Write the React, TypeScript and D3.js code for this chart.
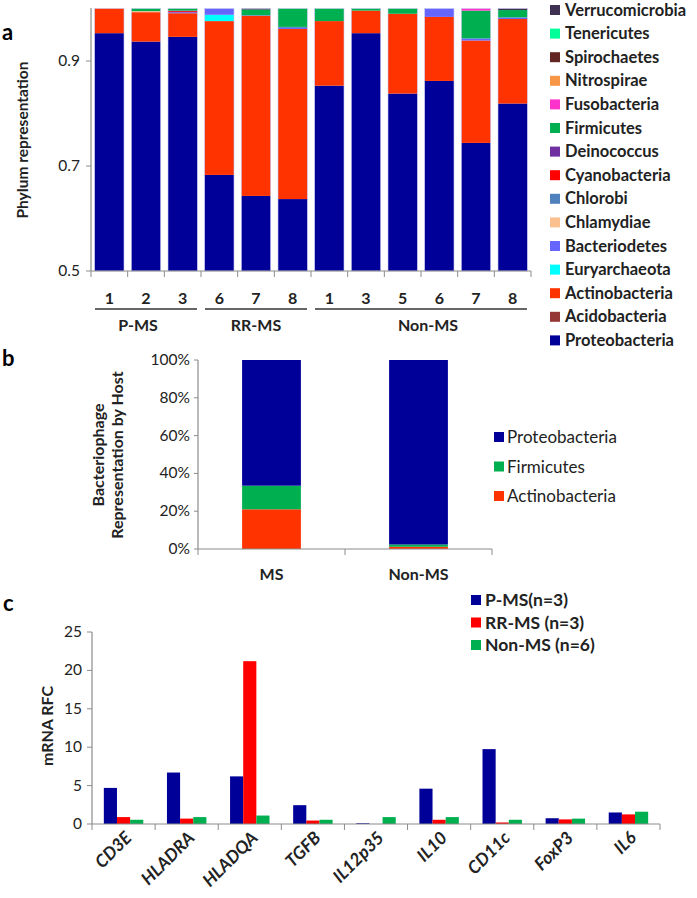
import React from "react";
import * as d3 from "d3";

// ---------- Panel a data ----------
const sampleLabels = ["1", "2", "3", "6", "7", "8", "1", "3", "5", "6", "7", "8"];
const groupNames = ["P-MS", "RR-MS", "Non-MS"];
const groupSizes = [3, 3, 6];
const phyla = [
  "Proteobacteria", "Acidobacteria", "Actinobacteria", "Euryarchaeota", "Bacteriodetes",
  "Chlamydiae", "Chlorobi", "Cyanobacteria", "Deinococcus", "Firmicutes",
  "Fusobacteria", "Nitrospirae", "Spirochaetes", "Tenericutes", "Verrucomicrobia",
];
const phylaColors = [
  "#000099", "#953735", "#FF3300", "#00FFFF", "#6666FF",
  "#FAC090", "#4F81BD", "#FF0000", "#7030A0", "#00B050",
  "#FF33CC", "#F79646", "#632523", "#00FF99", "#3F3151",
];
// values per phylum for each of the 12 samples
const proteobacteria = [0.953, 0.937, 0.946, 0.683, 0.643, 0.637, 0.853, 0.953, 0.838, 0.862, 0.744, 0.819];
const acidobacteria = [0, 0, 0, 0, 0, 0, 0, 0, 0, 0, 0, 0];
const actinobacteria = [0.047, 0.056, 0.045, 0.293, 0.343, 0.324, 0.123, 0.043, 0.152, 0.122, 0.195, 0.161];
const euryarchaeota = [0, 0, 0, 0.012, 0, 0, 0, 0, 0, 0, 0, 0];
const bacteriodetes = [0, 0, 0.002, 0.012, 0.001, 0.002, 0, 0, 0, 0.016, 0.004, 0.003];
const chlamydiae = [0, 0.002, 0, 0, 0, 0, 0, 0, 0, 0, 0, 0];
const chlorobi = [0, 0, 0, 0, 0, 0.002, 0, 0, 0, 0, 0, 0];
const cyanobacteria = [0, 0, 0.002, 0, 0, 0, 0, 0, 0, 0, 0, 0];
const deinococcus = [0, 0, 0.001, 0, 0, 0, 0, 0, 0, 0, 0, 0];
const firmicutes = [0, 0.005, 0.004, 0, 0.011, 0.035, 0.024, 0.004, 0.01, 0, 0.053, 0.014];
const fusobacteria = [0, 0, 0, 0, 0, 0, 0, 0, 0, 0, 0.004, 0];
const nitrospirae = [0, 0, 0, 0, 0, 0, 0, 0, 0, 0, 0, 0];
const spirochaetes = [0, 0, 0, 0, 0, 0, 0, 0, 0, 0, 0, 0];
const tenericutes = [0, 0, 0, 0, 0, 0, 0, 0, 0, 0, 0, 0];
const verrucomicrobia = [0, 0, 0, 0, 0.002, 0, 0, 0, 0, 0, 0, 0.003];
const phylaValues = [
  proteobacteria, acidobacteria, actinobacteria, euryarchaeota, bacteriodetes,
  chlamydiae, chlorobi, cyanobacteria, deinococcus, firmicutes,
  fusobacteria, nitrospirae, spirochaetes, tenericutes, verrucomicrobia,
];
const aTicks = [0.5, 0.7, 0.9];

// ---------- Panel b data ----------
const bCategories = ["MS", "Non-MS"];
const bSeries = ["Actinobacteria", "Firmicutes", "Proteobacteria"];
const bColors = ["#FF3300", "#00B050", "#000099"];
const bActino = [0.21, 0.012];
const bFirmicutes = [0.125, 0.012];
const bProteo = [0.665, 0.976];
const bTicks = [0, 0.2, 0.4, 0.6, 0.8, 1.0];

// ---------- Panel c data ----------
const genes = ["CD3E", "HLADRA", "HLADQA", "TGFB", "IL12p35", "IL10", "CD11c", "FoxP3", "IL6"];
const cSeries = ["P-MS(n=3)", "RR-MS (n=3)", "Non-MS (n=6)"];
const cColors = ["#000099", "#FF0000", "#00B050"];
const pms = [4.7, 6.7, 6.2, 2.45, 0.1, 4.6, 9.75, 0.75, 1.5];
const rrms = [0.9, 0.7, 21.2, 0.45, 0, 0.55, 0.2, 0.6, 1.25];
const nonms = [0.55, 0.9, 1.1, 0.55, 0.9, 0.9, 0.55, 0.7, 1.6];
const cTicks = [0, 5, 10, 15, 20, 25];

const FONT = "Lato, 'Open Sans', sans-serif";
const AXIS = "#8c8c8c";
const TXT = "#222";
const groupLabelShift = [-8, 0, 7];

export default function App() {
  // ----- Panel a -----
  const ax = d3.scaleBand<number>().domain(d3.range(12)).range([91, 531]).paddingInner(0.2).paddingOuter(0.1);
  const ay = d3.scaleLinear().domain([0.5, 1.0]).range([271, 8.5]);
  const stackA = d3.stack<number>()
    .keys(d3.range(phyla.length).map(String))
    .value((i, k) => phylaValues[+k][i])(d3.range(12));
  const step = (531 - 91) / 12;
  let gStart = 0;
  const groups = groupNames.map((g, gi) => {
    const s = gStart;
    gStart += groupSizes[gi];
    return { name: g, x0: 91 + s * step, x1: 91 + gStart * step, shift: groupLabelShift[gi] };
  });

  // ----- Panel b -----
  const bx = d3.scaleBand<string>().domain(bCategories).range([198, 492]).paddingInner(0.6).paddingOuter(0.3);
  const by = d3.scaleLinear().domain([0, 1]).range([549, 360]);
  const bVals = [bActino, bFirmicutes, bProteo];
  const stackB = d3.stack<number>()
    .keys(["0", "1", "2"])
    .value((i, k) => bVals[+k][i])(d3.range(2));

  // ----- Panel c -----
  const cx = d3.scaleBand<string>().domain(genes).range([92, 660]);
  const cInner = d3.scaleBand<number>().domain([0, 1, 2]).range([0, cx.bandwidth()]).paddingOuter(0.9);
  const cy = d3.scaleLinear().domain([0, 25]).range([824, 632]);
  const cVals = [pms, rrms, nonms];

  return (
    <svg width={697} height={898} style={{ position: "absolute", left: 0, top: 0, background: "#fff" }} fontFamily={FONT}>
      {/* ===== Panel a ===== */}
      <text x={2} y={40} fontSize={22} fontWeight="bold" fill="#000">a</text>
      <text transform={`translate(28,140) rotate(-90)`} textAnchor="middle" fontSize={15.5} fontWeight="bold" fill={TXT}>Phylum representation</text>
      {stackA.map((layer, li) =>
        layer.map((d, i) =>
          d[1] - d[0] > 0 ? (
            <rect key={`a${li}-${i}`} x={ax(i)} width={ax.bandwidth()}
              y={ay(d[1])} height={ay(Math.max(d[0], 0.5)) - ay(d[1])}
              fill={phylaColors[li]} />
          ) : null
        )
      )}
      {d3.range(12).map((i) => (
        <rect key={`ao${i}`} x={ax(i)} width={ax.bandwidth()} y={ay(1)} height={ay(0.5) - ay(1)}
          fill="none" stroke="#c8c8f0" strokeWidth={0.6} />
      ))}
      <line x1={91} x2={91} y1={8} y2={271} stroke={AXIS} strokeWidth={1.2} />
      <line x1={91} x2={531} y1={271} y2={271} stroke={AXIS} strokeWidth={1.2} />
      {aTicks.map((t) => (
        <g key={`at${t}`}>
          <line x1={86} x2={91} y1={ay(t)} y2={ay(t)} stroke={AXIS} />
          <text x={80} y={ay(t) + 5} textAnchor="end" fontSize={15.5} fill={TXT}>{t.toFixed(1)}</text>
        </g>
      ))}
      {d3.range(13).map((i) => (
        <line key={`axt${i}`} x1={91 + i * step} x2={91 + i * step} y1={271} y2={277} stroke={AXIS} />
      ))}
      {sampleLabels.map((l, i) => (
        <text key={`sl${i}`} x={(ax(i) as number) + ax.bandwidth() / 2} y={304} textAnchor="middle" fontSize={16} fontWeight="bold" fill={TXT}>{l}</text>
      ))}
      {groups.map((g) => (
        <g key={g.name}>
          <line x1={g.x0 + 4} x2={g.x1 - 4} y1={309} y2={309} stroke="#333" strokeWidth={1.5} />
          <text x={(g.x0 + g.x1) / 2 + g.shift} y={331} textAnchor="middle" fontSize={16} fontWeight="bold" fill={TXT}>{g.name}</text>
        </g>
      ))}
      {phyla.slice().reverse().map((p, j) => {
        const idx = phyla.length - 1 - j;
        const yy = 10 + j * 23.6;
        return (
          <g key={p}>
            <rect x={550} y={yy - 5} width={10} height={10} fill={phylaColors[idx]} />
            <text x={565} y={yy + 5.5} fontSize={16.5} fontWeight="bold" fill={TXT}>{p}</text>
          </g>
        );
      })}

      {/* ===== Panel b ===== */}
      <text x={2} y={366} fontSize={22} fontWeight="bold" fill="#000">b</text>
      <text transform={`translate(104,455) rotate(-90)`} textAnchor="middle" fontSize={16} fontWeight="bold" fill={TXT}>Bacteriophage</text>
      <text transform={`translate(123,455) rotate(-90)`} textAnchor="middle" fontSize={16} fontWeight="bold" fill={TXT}>Representation by Host</text>
      {stackB.map((layer, li) =>
        layer.map((d, i) => (
          <rect key={`b${li}-${i}`} x={bx(bCategories[i])} width={bx.bandwidth()}
            y={by(d[1])} height={by(d[0]) - by(d[1])} fill={bColors[li]} />
        ))
      )}
      <line x1={198} x2={198} y1={360} y2={549} stroke={AXIS} strokeWidth={1.2} />
      <line x1={198} x2={492} y1={549} y2={549} stroke={AXIS} strokeWidth={1.2} />
      {bTicks.map((t) => (
        <g key={`bt${t}`}>
          <line x1={194} x2={198} y1={by(t)} y2={by(t)} stroke={AXIS} />
          <text x={190} y={by(t) + 5} textAnchor="end" fontSize={15.5} fill={TXT}>{`${Math.round(t * 100)}%`}</text>
        </g>
      ))}
      {[198, 345, 492].map((x) => (
        <line key={`bxt${x}`} x1={x} x2={x} y1={549} y2={555} stroke={AXIS} />
      ))}
      {bCategories.map((c) => (
        <text key={c} x={(bx(c) as number) + bx.bandwidth() / 2} y={580} textAnchor="middle" fontSize={16} fontWeight="bold" fill={TXT}>{c}</text>
      ))}
      {bSeries.slice().reverse().map((s, j) => {
        const idx = bSeries.length - 1 - j;
        const yy = 437 + j * 29.5;
        return (
          <g key={s}>
            <rect x={494} y={yy - 5} width={10} height={10} fill={bColors[idx]} />
            <text x={507} y={yy + 6} fontSize={17} fill={TXT}>{s}</text>
          </g>
        );
      })}

      {/* ===== Panel c ===== */}
      <text x={3} y={611} fontSize={22} fontWeight="bold" fill="#000">c</text>
      <text transform={`translate(53,726) rotate(-90)`} textAnchor="middle" fontSize={16} fontWeight="bold" fill={TXT}>mRNA RFC</text>
      {genes.map((g, gi) =>
        cVals.map((vals, si) => (
          vals[gi] > 0 ? (
            <rect key={`c${gi}-${si}`} x={(cx(g) as number) + (cInner(si) as number)} width={cInner.bandwidth()}
              y={cy(vals[gi])} height={cy(0) - cy(vals[gi])} fill={cColors[si]} />
          ) : null
        ))
      )}
      <line x1={92} x2={92} y1={632} y2={824} stroke={AXIS} strokeWidth={1.2} />
      <line x1={92} x2={660} y1={824} y2={824} stroke={AXIS} strokeWidth={1.2} />
      {cTicks.map((t) => (
        <g key={`ct${t}`}>
          <line x1={87} x2={92} y1={cy(t)} y2={cy(t)} stroke={AXIS} />
          <text x={82} y={cy(t) + 5} textAnchor="end" fontSize={15.5} fill={TXT}>{t}</text>
        </g>
      ))}
      {d3.range(10).map((i) => {
        const x = 92 + i * cx.step();
        return <line key={`cxt${i}`} x1={x} x2={x} y1={824} y2={830} stroke={AXIS} />;
      })}
      {genes.map((g) => {
        const x = (cx(g) as number) + cx.bandwidth() / 2 + 9;
        return (
          <text key={`gl${g}`} transform={`translate(${x},839) rotate(-45)`} textAnchor="end" fontSize={17.5}
            fontWeight="bold" fontStyle="italic" fill={TXT}>{g}</text>
        );
      })}
      {cSeries.map((s, j) => {
        const yy = 600 + j * 22.5;
        return (
          <g key={s}>
            <rect x={471} y={yy - 5} width={10} height={10} fill={cColors[j]} />
            <text x={485} y={yy + 6} fontSize={17.5} fontWeight="bold" fill={TXT}>{s}</text>
          </g>
        );
      })}
    </svg>
  );
}
